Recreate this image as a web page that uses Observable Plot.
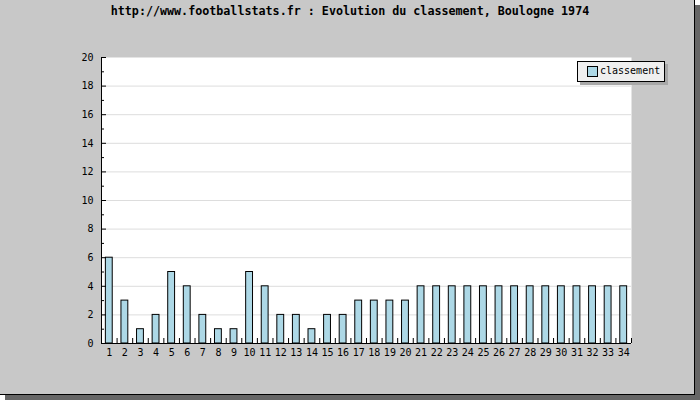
<!DOCTYPE html>
<html>
<head>
<meta charset="utf-8">
<script src="https://cdn.jsdelivr.net/npm/d3@7"></script>
<script src="https://cdn.jsdelivr.net/npm/@observablehq/plot@0.6"></script>
<style>
  html, body { margin: 0; padding: 0; background: #ffffff; }
  #wrap { position: relative; width: 700px; height: 400px; }
  #box { position: absolute; left: 0; top: 0; width: 694px; height: 394px; background: #c8c8c8;
         border-right: 1px solid #000; border-bottom: 1px solid #000; box-shadow: 5px 5px 0 #666666; }
  #title { position: absolute; left: 0; width: 700px; top: 4px; text-align: center;
           font: bold 11.7px "DejaVu Sans Mono", monospace; color: #000; }
  #legend { position: absolute; left: 577px; top: 61px; width: 86px; height: 19px; background: #efefef;
            border: 1px solid #000; box-shadow: 3px 3px 0 #a8a8a8; font: 10px "DejaVu Sans Mono", monospace; }
  #legend .sw { position: absolute; left: 9px; top: 4px; width: 9px; height: 9px; background: #add8e6; border: 1px solid #000; }
  #legend .lab { position: absolute; left: 22px; top: 3px; }
  #chart { position: absolute; left: 0; top: 0; }
</style>
</head>
<body>
<div id="wrap">
  <div id="box"></div>
  <div id="chart"></div>
  <div id="title"></div>
  <div id="legend"><div class="sw"></div><div class="lab"></div></div>
</div>
<script>
const titleText = "http://www.footballstats.fr : Evolution du classement, Boulogne 1974";
const seriesName = "classement";
const rounds = d3.range(1, 35);
const classement = [6,3,1,2,5,4,2,1,1,5,4,2,2,1,2,2,3,3,3,3,4,4,4,4,4,4,4,4,4,4,4,4,4,4];
const yMajorTicks = [0,2,4,6,8,10,12,14,16,18,20];
const yMinorTicks = [1,3,5,7,9,11,13,15,17,19];
const gridValues = [2,4,6,8,10,12,14,16,18];
const xBoundaries = d3.range(0.5, 35, 1);

const data = rounds.map((r, i) => ({round: r, value: classement[i]}));
const half = 0.22;

document.getElementById("title").textContent = titleText;
document.querySelector("#legend .lab").textContent = seriesName;

const chart = Plot.plot({
  width: 694,
  height: 394,
  marginLeft: 101,
  marginRight: 63,
  marginTop: 57,
  marginBottom: 51,
  style: {background: "transparent", fontFamily: "DejaVu Sans Mono, monospace", fontSize: "10px", color: "#000"},
  x: {type: "linear", domain: [0.5, 34.5], label: null},
  y: {domain: [0, 20], label: null},
  marks: [
    Plot.frame({fill: "white", stroke: null}),
    Plot.gridY(gridValues, {stroke: "#dddddd", strokeOpacity: 1}),
    Plot.rectY(data, {x1: d => d.round - half, x2: d => d.round + half, y1: 0, y2: "value",
                      fill: "#add8e6", stroke: "#000", strokeWidth: 1}),
    Plot.ruleX([0.5], {stroke: "#000"}),
    Plot.ruleY([0], {stroke: "#000"}),
    Plot.axisY(yMajorTicks, {tickSize: -5, tickPadding: 13, tickFormat: d => String(d), fill: "#000", label: null}),
    Plot.axisY(yMinorTicks, {tickSize: -3, tickFormat: () => "", label: null}),
    Plot.axisX(xBoundaries, {tickSize: -5, tickFormat: () => "", label: null}),
    Plot.axisX(rounds, {tickSize: 0, tickPadding: 5, tickFormat: d => String(d), fill: "#000", label: null})
  ]
});
document.getElementById("chart").appendChild(chart);
</script>
</body>
</html>
